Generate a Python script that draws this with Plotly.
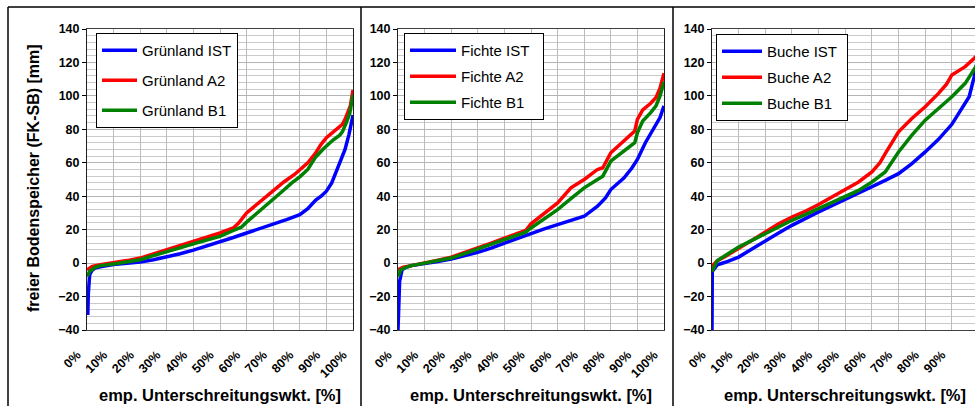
import plotly.graph_objects as go

W, H = 975, 406

# ---------------- data (x = emp. Unterschreitungswkt. in %, y = mm) ----------------
g_ist_x = [0.3, 0.5, 1.0, 1.8, 3, 5, 10, 15, 20, 25, 30, 35, 40, 45, 50, 55, 60, 65, 70, 75, 80, 83, 86, 88, 90, 92, 95, 97, 98.5, 100]
g_ist_y = [-31, -18, -7, -4.5, -3, -2.2, -0.8, -0.2, 0.6, 2, 3.6, 5.6, 7.8, 10.2, 12.7, 15.3, 18, 20.5, 23.5, 26, 29, 32.5, 37.7, 40, 43, 48, 60, 68, 77, 88.5]
g_a2_x = [0, 2, 5, 10, 15, 20, 25, 30, 35, 40, 45, 50, 55, 57, 60, 63, 66, 70, 74, 78, 80, 83, 86, 88, 90, 92, 94, 96, 97, 98, 99, 100]
g_a2_y = [-4, -2, -1, 0, 1.5, 3, 5.5, 7.8, 10, 12.7, 15, 18, 21, 24, 30, 34, 37.7, 43, 48.5, 53, 55.6, 60, 66, 71, 75, 77.5, 80.5, 83, 86, 90, 94, 103.5]
g_b1_x = [0, 1, 3, 5, 10, 15, 20, 25, 30, 35, 40, 45, 50, 55, 58, 60, 63, 66, 70, 74, 77, 80, 83, 86, 89, 92.5, 95, 96, 97.5, 98.8, 100]
g_b1_y = [-8, -5, -2.5, -1.5, -0.5, 0.5, 2, 4.5, 7, 9.2, 11.5, 13.8, 16, 19.5, 21.5, 24.5, 28.5, 32.5, 37.7, 43.7, 48, 51.6, 56, 63.5, 68.5, 73.6, 76.5, 78.5, 84, 89.7, 100.5]

f_ist_x = [0, 0.3, 0.6, 1.5, 3, 5, 10, 15, 20, 25, 30, 35, 40, 45, 50, 55, 60, 65, 70, 75, 78, 80, 83, 85, 88, 90, 93, 96, 98.5, 100]
f_ist_y = [-40, -20, -11, -4, -2.5, -1.5, 0, 1, 2.4, 4.2, 6.4, 9, 12, 15, 18, 20.5, 23, 25.5, 28, 34, 39, 44, 48, 51, 57, 62, 72, 80, 87, 94]
f_a2_x = [0, 2, 5, 10, 15, 20, 25, 30, 35, 40, 45, 48, 50, 55, 60, 65, 70, 75, 77, 80, 85, 89, 90, 92, 95, 97, 98.5, 100]
f_a2_y = [-4, -2.5, -1.5, 0, 1.8, 3.6, 6.3, 9, 12, 15, 17.5, 19.5, 23.5, 29.5, 36, 45, 50, 56, 57, 66, 73, 79, 86, 91.6, 95.6, 99, 104.6, 113.5]
f_b1_x = [0, 1, 3, 5, 10, 15, 20, 25, 30, 35, 40, 45, 48, 50, 55, 60, 65, 70, 75, 77, 80, 85, 89, 90, 92, 95, 97, 98.5, 100]
f_b1_y = [-8, -4, -2.5, -1.5, 0, 1.5, 3, 5.7, 8.4, 11.2, 14, 16.5, 18.5, 21, 26.5, 32, 38.5, 45, 50, 52, 61, 67, 72, 78, 85, 90, 94, 100, 108.5]

b_ist_x = [0, 0.1, 2, 5, 10, 15, 20, 25, 30, 35, 40, 45, 50, 55, 60, 65, 70, 75, 80, 85, 90, 94, 96.5, 98.4, 100]
b_ist_y = [-40, -5, -1, 0.5, 3.6, 8.5, 13.6, 18, 22.6, 26.8, 30.6, 34.3, 38, 41.6, 45.5, 49.5, 53.5, 59.5, 66.5, 74, 83, 93.5, 99.5, 111.5, 125]
b_a2_x = [0, 2, 5, 10, 15, 20, 25, 30, 35, 40, 45, 50, 55, 60, 63, 65, 70, 75, 80, 85, 88, 90, 92, 95, 98.4, 100]
b_a2_y = [-2, 1.5, 4, 8.6, 13.6, 18.6, 23.5, 27.6, 31, 35, 39.5, 44, 48.5, 54.5, 60, 65.5, 78.5, 86.5, 93.5, 101.5, 107, 112.5, 114.5, 117.5, 122.5, 125]
b_b1_x = [0, 2, 5, 10, 15, 20, 25, 30, 35, 40, 45, 50, 55, 60, 65, 70, 75, 80, 85, 90, 95, 98.4, 100]
b_b1_y = [-5, 1.5, 4.6, 9.6, 13.6, 17.6, 21.8, 25.6, 29, 32.6, 36, 39.6, 43.5, 48.5, 54.5, 66.5, 76.5, 85.5, 92.5, 99.5, 107.5, 116.5, 120]

panel_names = ["Grünland", "Fichte", "Buche"]
scenario_names = ["IST", "A2", "B1"]
series = [
    [(g_ist_x, g_ist_y), (g_a2_x, g_a2_y), (g_b1_x, g_b1_y)],
    [(f_ist_x, f_ist_y), (f_a2_x, f_a2_y), (f_b1_x, f_b1_y)],
    [(b_ist_x, b_ist_y), (b_a2_x, b_a2_y), (b_b1_x, b_b1_y)],
]
x_ticks = [0, 10, 20, 30, 40, 50, 60, 70, 80, 90, 100]
x_ticktext = [f"{v}%" + "\u00a0" * 4 for v in x_ticks]
y_ticks = [-40, -20, 0, 20, 40, 60, 80, 100, 120, 140]

x_title = "emp. Unterschreitungswkt. [%]"
y_title = "freier Bodenspeicher (FK-SB) [mm]"

# ---------------- layout geometry ----------------
colors = ["#0000FF", "#FF0000", "#008000"]
FONT = "Liberation Sans, Arial, sans-serif"

def px(x):
    return x / W

def py(y):
    return 1 - y / H

plot_left = [87, 398, 712]
plot_right = [353, 664, 975]
PW = 266.5
x_ranges = [[0, 100], [0, 100], [0, (975 - 712) / PW * 100]]
y_dom = [py(330), py(29)]
y_zero_pos = y_dom[0] + (0 - (-40)) / 180 * (y_dom[1] - y_dom[0])

# legend: left x, top y, item gap, symbol width, name padding
legend_cfg = [(96, 33, 7.5, 35, 0), (404, 33, 3.5, 46, 2), (716, 34, 3.5, 40, 1)]

fig = go.Figure()

for i in range(3):
    xa = "x" if i == 0 else f"x{i+1}"
    ya = "y" if i == 0 else f"y{i+1}"
    lg = "legend" if i == 0 else f"legend{i+1}"
    pad = "\u00a0" * legend_cfg[i][4]
    for j in range(3):
        xs, ys = series[i][j]
        fig.add_trace(go.Scatter(
            x=xs, y=ys, mode="lines",
            name=f"{panel_names[i]} {scenario_names[j]}{pad}",
            line=dict(color=colors[j], width=3.5),
            xaxis=xa, yaxis=ya, legend=lg, legendgroup=f"{i}-{j}",
            hoverinfo="skip",
        ))

layout = dict(
    width=W, height=H,
    margin=dict(l=0, r=0, t=0, b=0, autoexpand=False),
    paper_bgcolor="white", plot_bgcolor="white",
    font=dict(family=FONT, color="black"),
    showlegend=True,
    shapes=[], annotations=[],
)

for i in range(3):
    sfx = "" if i == 0 else str(i + 1)
    layout[f"xaxis{sfx}"] = dict(
        domain=[px(plot_left[i]), min(1, px(plot_right[i]))],
        range=x_ranges[i], anchor=f"y{sfx}", automargin=False,
        tickvals=x_ticks, ticktext=x_ticktext, tickangle=-45,
        tickfont=dict(family=FONT, size=12.5, weight="bold", color="black"),
        ticks="", ticklabelstandoff=2,
        showgrid=True, gridcolor="#bcbcbc", gridwidth=1,
        showline=True, linecolor="#404040", linewidth=1, mirror=True,
        zeroline=False, fixedrange=True,
    )
    layout[f"yaxis{sfx}"] = dict(
        domain=y_dom, range=[-40, 140], anchor=f"x{sfx}", automargin=False,
        tickvals=y_ticks,
        tickfont=dict(family=FONT, size=12.5, weight="bold", color="black"),
        ticks="outside", ticklen=4, tickcolor="black",
        showgrid=True, gridcolor="#b4b4b4", gridwidth=1,
        minor=dict(dtick=4, showgrid=True, gridcolor="#cacaca", gridwidth=1, ticks=""),
        showline=True, linecolor="#202020", linewidth=1, mirror=True,
        zeroline=False, fixedrange=True,
    )
    # zero-crossing x axis line with upward ticks
    layout[f"xaxis{4+i}"] = dict(
        overlaying=f"x{sfx}", anchor="free", position=y_zero_pos, side="top",
        range=x_ranges[i], domain=[px(plot_left[i]), min(1, px(plot_right[i]))],
        automargin=False,
        tickvals=x_ticks, showticklabels=False, ticks="outside", ticklen=5,
        tickcolor="black", showgrid=False, showline=True, linecolor="#303030",
        linewidth=1.2, zeroline=False, fixedrange=True,
    )
    lx, ly, gap, iw, _ = legend_cfg[i]
    lname = "legend" if i == 0 else f"legend{i+1}"
    layout[lname] = dict(
        x=px(lx), y=py(ly), xanchor="left", yanchor="top",
        bgcolor="white", bordercolor="black", borderwidth=1,
        font=dict(family=FONT, size=15, color="black"),
        itemwidth=iw, tracegroupgap=gap,
    )
    layout["annotations"].append(dict(
        text=x_title, xref="paper", yref="paper",
        x=px(plot_left[i] + PW / 2), y=py(395),
        xanchor="center", yanchor="middle", showarrow=False,
        font=dict(family=FONT, size=16.5, weight="bold", color="black"),
    ))

layout["annotations"].append(dict(
    text=y_title, xref="paper", yref="paper", x=px(33), y=py(178),
    xanchor="center", yanchor="middle", textangle=-90, showarrow=False,
    font=dict(family=FONT, size=16, weight="bold", color="black"),
))

# outer chart frames
frame = dict(type="line", xref="paper", yref="paper", line=dict(color="black", width=1.5))
layout["shapes"].append(dict(frame, x0=px(8), x1=1, y0=py(7), y1=py(7)))
for xv in [8, 361, 673]:
    layout["shapes"].append(dict(frame, x0=px(xv), x1=px(xv), y0=py(7), y1=0))

fig.update_layout(**layout)
fig.write_html(
    "out.html",
    config={"displayModeBar": False, "staticPlot": True},
    post_script="document.body.style.margin='0';document.body.style.overflow='hidden';",
)
